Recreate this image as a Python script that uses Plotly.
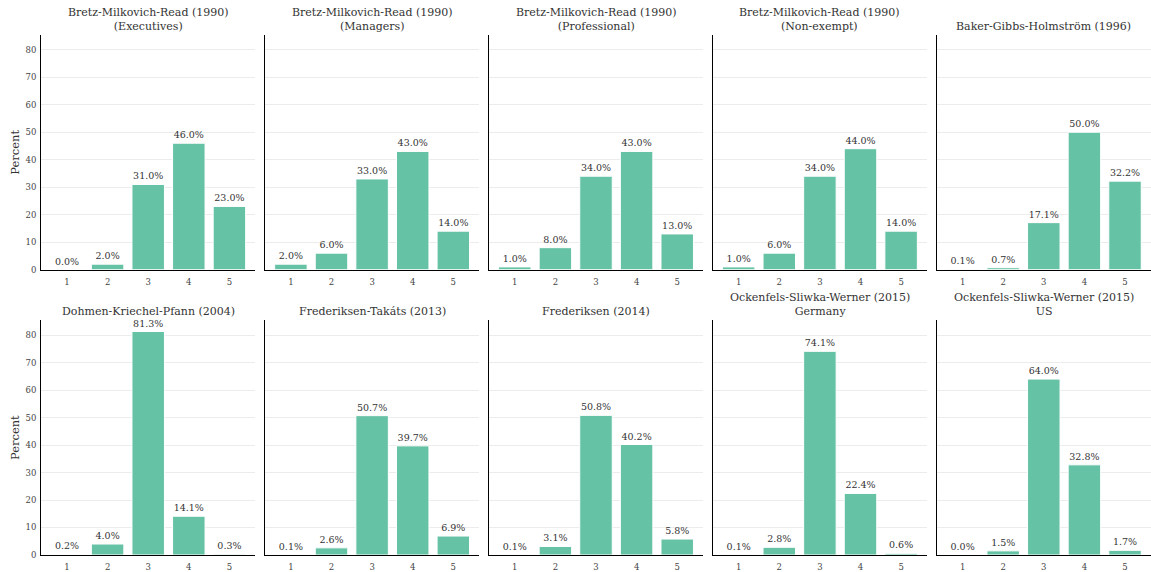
import plotly.graph_objects as go
from plotly.subplots import make_subplots

# Rating categories on the 1-5 performance scale
ratings = [1, 2, 3, 4, 5]

panel_titles = [
    "Bretz-Milkovich-Read (1990)<br>(Executives)",
    "Bretz-Milkovich-Read (1990)<br>(Managers)",
    "Bretz-Milkovich-Read (1990)<br>(Professional)",
    "Bretz-Milkovich-Read (1990)<br>(Non-exempt)",
    "Baker-Gibbs-Holmström (1996)",
    "Dohmen-Kriechel-Pfann (2004)",
    "Frederiksen-Takáts (2013)",
    "Frederiksen (2014)",
    "Ockenfels-Sliwka-Werner (2015)<br>Germany",
    "Ockenfels-Sliwka-Werner (2015)<br>US",
]

# Share of ratings in each category (percent)
bmr_executives = [0.0, 2.0, 31.0, 46.0, 23.0]
bmr_managers = [2.0, 6.0, 33.0, 43.0, 14.0]
bmr_professional = [1.0, 8.0, 34.0, 43.0, 13.0]
bmr_nonexempt = [1.0, 6.0, 34.0, 44.0, 14.0]
bgh_1996 = [0.1, 0.7, 17.1, 50.0, 32.2]
dkp_2004 = [0.2, 4.0, 81.3, 14.1, 0.3]
ft_2013 = [0.1, 2.6, 50.7, 39.7, 6.9]
frederiksen_2014 = [0.1, 3.1, 50.8, 40.2, 5.8]
osw_germany = [0.1, 2.8, 74.1, 22.4, 0.6]
osw_us = [0.0, 1.5, 64.0, 32.8, 1.7]

series = [
    bmr_executives, bmr_managers, bmr_professional, bmr_nonexempt, bgh_1996,
    dkp_2004, ft_2013, frederiksen_2014, osw_germany, osw_us,
]

FONT = "DejaVu Serif"
BAR_COLOR = "#66c2a5"
y_max = max(max(s) for s in series) * 1.05

fig = make_subplots(
    rows=2, cols=5,
    subplot_titles=panel_titles,
    shared_yaxes=True,
    horizontal_spacing=9.5 / 1111,
    vertical_spacing=51 / 523,
)

for i, vals in enumerate(series):
    r, c = i // 5 + 1, i % 5 + 1
    fig.add_trace(
        go.Bar(
            x=ratings, y=vals,
            marker=dict(color=BAR_COLOR, line=dict(color="white", width=1)),
            texttemplate="%{y:.1f}%",
            textposition="outside",
            textfont=dict(family=FONT, size=9.5, color="#333333"),
            cliponaxis=False,
            width=0.8,
            showlegend=False,
        ),
        row=r, col=c,
    )

fig.update_xaxes(
    range=[0.36, 5.64],
    tickvals=ratings,
    showgrid=False,
    showline=True, linecolor="black", linewidth=1,
    ticks="outside", ticklen=4, tickcolor="rgba(0,0,0,0)",
    tickfont=dict(family=FONT, size=8.5, color="#444444"),
    zeroline=False,
)
fig.update_yaxes(
    range=[0, y_max],
    tickvals=[0, 10, 20, 30, 40, 50, 60, 70, 80],
    showgrid=True, gridcolor="#ececec", gridwidth=1,
    showline=True, linecolor="black", linewidth=1,
    ticks="outside", ticklen=2, tickcolor="rgba(0,0,0,0)",
    tickfont=dict(family=FONT, size=8.5, color="#444444"),
    zeroline=False,
)
fig.update_yaxes(title_text="Percent", title_font=dict(family=FONT, size=11.5, color="#333333"),
                 title_standoff=3, col=1)

for ann in fig.layout.annotations:
    ann.font = dict(family=FONT, size=11, color="#333333")

fig.update_layout(
    width=1151, height=572,
    margin=dict(l=41, r=0, t=35, b=14),
    plot_bgcolor="white", paper_bgcolor="white",
    bargap=0.2,
    font=dict(family=FONT),
)

fig.write_html("out.html")
